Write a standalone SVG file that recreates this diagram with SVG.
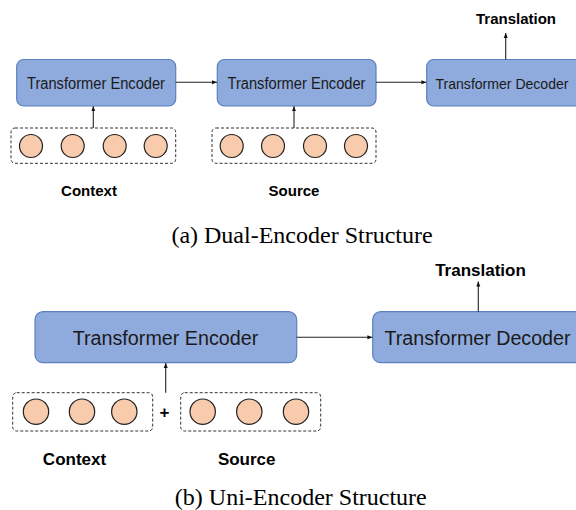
<svg xmlns="http://www.w3.org/2000/svg" width="576" height="510" viewBox="0 0 576 510">
<style>
.box{fill:#8FAADC;stroke:#5B7FC0;stroke-width:1.2}
.tok{fill:#F8CBAD;stroke:#222;stroke-width:1.2}
.dash{fill:none;stroke:#333;stroke-width:1;stroke-dasharray:3,2}
.lbl{font-family:"Liberation Sans",Arial,sans-serif;fill:#1a1a1a;text-anchor:middle}
.bold{font-family:"Liberation Sans",Arial,sans-serif;font-weight:bold;fill:#000;text-anchor:middle}
.cap{font-family:"Liberation Serif","Times New Roman",serif;fill:#000;text-anchor:middle;font-size:24px}
.conn{stroke:#222;stroke-width:1.1;fill:none;marker-end:url(#ah)}
</style>
<defs>
<marker id="ah" viewBox="0 0 10 10" refX="10" refY="5" markerWidth="5" markerHeight="5" orient="auto" markerUnits="userSpaceOnUse">
<path d="M0,1 L10,5 L0,9 z" fill="#111"/>
</marker>
</defs>
<rect width="576" height="510" fill="#fff"/>

<!-- (a) Dual-Encoder -->
<g id="enc1">
<rect class="box" x="16.7" y="59.5" width="159" height="46.5" rx="7"/>
<text class="lbl" x="96" y="88.5" font-size="16" textLength="138" lengthAdjust="spacingAndGlyphs">Transformer Encoder</text>
</g>
<g id="enc2">
<rect class="box" x="217.3" y="59.5" width="158.7" height="46.5" rx="7"/>
<text class="lbl" x="296.5" y="88.5" font-size="16" textLength="138" lengthAdjust="spacingAndGlyphs">Transformer Encoder</text>
</g>
<g id="dec1">
<rect class="box" x="426.7" y="59.5" width="160" height="46.5" rx="7"/>
<text class="lbl" x="502" y="88.5" font-size="15" textLength="133" lengthAdjust="spacingAndGlyphs">Transformer Decoder</text>
</g>
<g id="ctx1">
<rect class="dash" x="11" y="128" width="164.7" height="35.3" rx="4"/>
<circle class="tok" cx="31" cy="146" r="11.5"/>
<circle class="tok" cx="72.7" cy="146" r="11.5"/>
<circle class="tok" cx="114.7" cy="146" r="11.5"/>
<circle class="tok" cx="155.7" cy="146" r="11.5"/>
</g>
<g id="src1">
<rect class="dash" x="212" y="128" width="164" height="35.3" rx="4"/>
<circle class="tok" cx="231.7" cy="146" r="11.5"/>
<circle class="tok" cx="273" cy="146" r="11.5"/>
<circle class="tok" cx="315" cy="146" r="11.5"/>
<circle class="tok" cx="356" cy="146" r="11.5"/>
</g>
<g id="labels-a">
<text class="bold" x="89" y="196" font-size="15">Context</text>
<text class="bold" x="294" y="196" font-size="15">Source</text>
<text class="bold" x="516" y="24" font-size="15">Translation</text>
<text class="cap" x="302" y="243.3">(a) Dual-Encoder Structure</text>
</g>

<!-- (b) Uni-Encoder -->
<g id="enc3">
<rect class="box" x="35" y="311.7" width="261.7" height="51" rx="8"/>
<text class="lbl" x="165.5" y="345" font-size="19.5" textLength="185.6" lengthAdjust="spacingAndGlyphs">Transformer Encoder</text>
</g>
<g id="dec2">
<rect class="box" x="372.7" y="311.7" width="215" height="51" rx="8"/>
<text class="lbl" x="477.5" y="345" font-size="19.5" textLength="186" lengthAdjust="spacingAndGlyphs">Transformer Decoder</text>
</g>
<g id="ctx2">
<rect class="dash" x="12.7" y="392.7" width="140" height="38.3" rx="4"/>
<circle class="tok" cx="36" cy="411.7" r="12.7"/>
<circle class="tok" cx="82" cy="411.7" r="12.7"/>
<circle class="tok" cx="124.3" cy="411.7" r="12.7"/>
</g>
<g id="src2">
<rect class="dash" x="180.7" y="392.7" width="140" height="38.3" rx="4"/>
<circle class="tok" cx="202.7" cy="411.7" r="12.7"/>
<circle class="tok" cx="249.3" cy="411.7" r="12.7"/>
<circle class="tok" cx="296" cy="411.7" r="12.7"/>
</g>
<g id="labels-b">
<text class="bold" x="164.5" y="417.5" font-size="17">+</text>
<text class="bold" x="74.5" y="465" font-size="17">Context</text>
<text class="bold" x="246.7" y="465" font-size="17">Source</text>
<text class="bold" x="480.5" y="276" font-size="17">Translation</text>
<text class="cap" x="300.8" y="505">(b) Uni-Encoder Structure</text>
</g>

<g id="connectors">
<line class="conn" x1="93.3" y1="128" x2="93.3" y2="106.3"/>
<line class="conn" x1="175.7" y1="82.3" x2="217" y2="82.3"/>
<line class="conn" x1="294" y1="128" x2="294" y2="106.3"/>
<line class="conn" x1="376" y1="82.3" x2="426.4" y2="82.3"/>
<line class="conn" x1="505.7" y1="59.5" x2="505.7" y2="33"/>
<line class="conn" x1="165.7" y1="392.7" x2="165.7" y2="363"/>
<line class="conn" x1="296.7" y1="337.3" x2="372.4" y2="337.3"/>
<line class="conn" x1="478.3" y1="311.7" x2="478.3" y2="281.5"/>
</g>
</svg>
